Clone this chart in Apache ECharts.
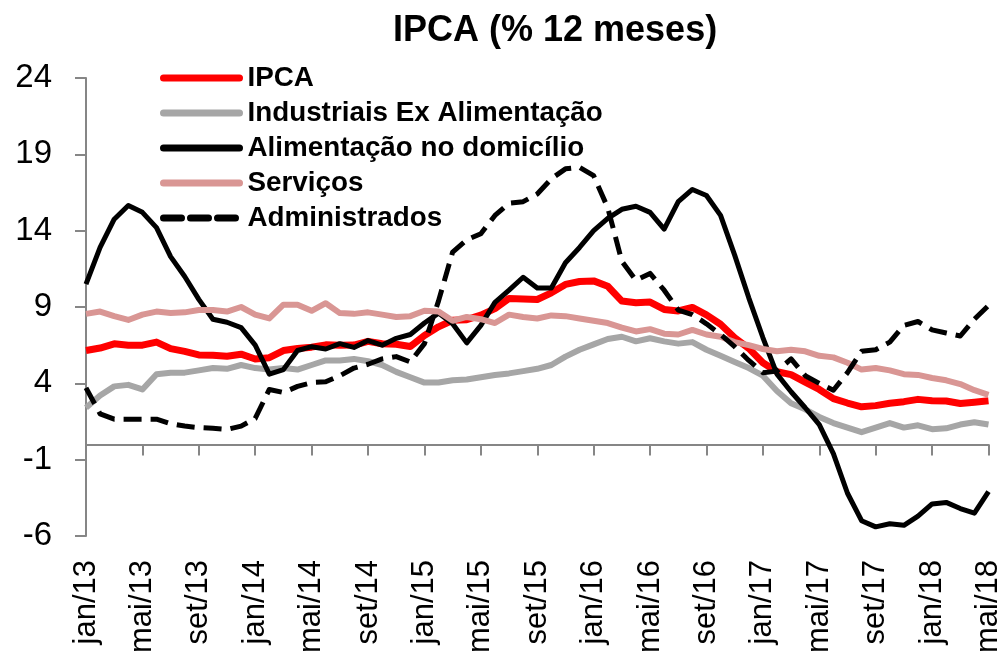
<!DOCTYPE html>
<html>
<head>
<meta charset="utf-8">
<script src="https://cdn.jsdelivr.net/npm/echarts@6/dist/echarts.min.js"></script>
<style>
html, body { margin: 0; padding: 0; background: #fff; }
#chart { width: 1004px; height: 660px; }
</style>
</head>
<body>
<div id="chart"></div>
<script>
// meses jan/13 .. mai/18
var monthNames = ['jan', 'fev', 'mar', 'abr', 'mai', 'jun', 'jul', 'ago', 'set', 'out', 'nov', 'dez']
var years = ['13', '14', '15', '16', '17', '18']
var lastMonth = 'mai/18'

var yTicks = [-6, -1, 4, 9, 14, 19, 24]

var ipca = [
  6.15, 6.31, 6.59, 6.49, 6.50, 6.70, 6.27, 6.09, 5.86, 5.84, 5.77, 5.91,
  5.59, 5.68, 6.15, 6.28, 6.37, 6.52, 6.50, 6.51, 6.75, 6.59, 6.56, 6.41,
  7.14, 7.70, 8.13, 8.17, 8.47, 8.89, 9.56, 9.53, 9.49, 9.93, 10.48, 10.67,
  10.71, 10.36, 9.39, 9.28, 9.32, 8.84, 8.74, 8.97, 8.48, 7.87, 6.99, 6.29,
  5.35, 4.76, 4.57, 4.08, 3.60, 3.00, 2.71, 2.46, 2.54, 2.70, 2.80, 2.95,
  2.86, 2.84, 2.68, 2.76, 2.86
]
var industriais = [
  2.4, 3.2, 3.8, 3.9, 3.6, 4.6, 4.7, 4.7, 4.85, 5.0, 4.95, 5.2, 5.0, 4.9, 5.0, 4.9, 5.2, 5.5, 5.5,
  5.6, 5.45, 5.2, 4.75, 4.4, 4.05, 4.05, 4.2, 4.25, 4.4, 4.55, 4.65, 4.8, 4.95, 5.2, 5.75, 6.2, 6.55, 6.9, 7.05, 6.75,
  6.95, 6.75, 6.6, 6.7, 6.2, 5.8, 5.4, 5.0, 4.5, 3.5, 2.7, 2.3, 1.8, 1.4, 1.1, 0.8, 1.1, 1.4, 1.1, 1.25, 1.0, 1.05, 1.3, 1.45, 1.3
]
var alimentacao = [
  10.5, 12.9, 14.75, 15.65, 15.2, 14.2, 12.3, 11.0, 9.5, 8.2, 8.0, 7.65, 6.5, 4.6, 4.9, 6.15, 6.4, 6.25, 6.6,
  6.35, 6.8, 6.5, 6.95, 7.2, 7.95, 8.6, 7.9, 6.65, 7.8, 9.3, 10.1, 10.95, 10.25, 10.25, 11.9, 12.9, 14.0, 14.8, 15.4, 15.6,
  15.2, 14.1, 15.9, 16.7, 16.3, 15.0, 12.4, 9.6, 7.0, 4.6, 3.45, 2.4, 1.3, -0.6, -3.2, -5.0, -5.4, -5.2, -5.3, -4.7, -3.9, -3.8, -4.2, -4.5, -3.1
]
var servicos = [
  8.55, 8.7, 8.4, 8.15, 8.5, 8.7, 8.6, 8.65, 8.8, 8.8, 8.7, 9.0, 8.5, 8.25, 9.15, 9.15, 8.75, 9.25, 8.6,
  8.55, 8.65, 8.5, 8.35, 8.4, 8.75, 8.7, 8.1, 8.35, 8.2, 7.95, 8.5, 8.35, 8.25, 8.45, 8.4, 8.25, 8.1, 7.95, 7.65, 7.4,
  7.55, 7.25, 7.2, 7.5, 7.2, 7.05, 6.7, 6.5, 6.25, 6.1, 6.2, 6.1, 5.8, 5.7, 5.35, 4.9, 5.0, 4.85, 4.6, 4.55, 4.35, 4.2, 3.95, 3.55, 3.25
]
var administrados = [
  3.7, 2.0, 1.65, 1.65, 1.65, 1.65, 1.35, 1.2, 1.1, 1.05, 0.98, 1.2, 1.7, 3.6, 3.4, 3.8, 4.05, 4.1, 4.5,
  5.0, 5.25, 5.6, 5.75, 5.4, 6.6, 9.4, 12.6, 13.4, 13.8, 15.0, 15.8, 15.9, 16.4, 17.4, 18.05, 18.15, 17.6, 15.5, 12.0, 10.75,
  11.2, 10.1, 8.8, 8.5, 7.9, 7.2, 6.4, 5.5, 4.7, 4.8, 5.6, 4.5, 4.0, 3.55, 4.7, 6.1, 6.2, 6.7, 7.8, 8.05, 7.5, 7.3, 7.1, 8.2, 9.1
]

var months = []
years.forEach(function (y) {
  monthNames.forEach(function (m) {
    if (months.indexOf(lastMonth) < 0) months.push(m + '/' + y)
  })
})

var font = 'Liberation Sans, Arial, sans-serif'
var axisGray = '#868686'

var chart = echarts.init(document.getElementById('chart'), null, { renderer: 'canvas' })

function lineSeries (name, data, color, width, type) {
  return {
    name: name,
    type: 'line',
    data: data,
    symbol: 'none',
    smooth: false,
    animation: false,
    lineStyle: { color: color, width: width, type: type || 'solid', cap: 'butt', join: 'round' },
    itemStyle: { color: color }
  }
}

var option = {
  backgroundColor: '#fff',
  animation: false,
  title: {
    text: 'IPCA (% 12 meses)',
    left: 388,
    top: 8,
    textStyle: { fontFamily: font, fontSize: 36, fontWeight: 'bold', color: '#000' }
  },
  legend: {
    orient: 'vertical',
    left: 155,
    top: 58,
    itemWidth: 76,
    itemHeight: 14,
    itemGap: 5,
    itemStyle: { opacity: 0 },
    lineStyle: { width: 7, cap: 'round' },
    textStyle: { fontFamily: font, fontSize: 27.8, fontWeight: 'bold', color: '#000', lineHeight: 30, padding: [0, 0, 0, 3] },
    data: ['IPCA', 'Industriais Ex Alimentação', 'Alimentação no domicílio', 'Serviços', 'Administrados']
  },
  grid: { left: 86, right: 10, top: 78, bottom: 124, containLabel: false },
  xAxis: [
    {
      type: 'category',
      data: months,
      boundaryGap: false,
      axisLine: { onZero: true, lineStyle: { color: axisGray, width: 2 } },
      axisTick: { show: true, interval: 3, length: 11, inside: false, lineStyle: { color: axisGray, width: 2 } },
      axisLabel: { show: false },
      splitLine: { show: false }
    },
    {
      type: 'category',
      data: months,
      boundaryGap: false,
      position: 'bottom',
      axisLine: { show: false, onZero: false },
      axisTick: { show: false },
      axisLabel: {
        interval: 3,
        rotate: 90,
        margin: 24,
        fontFamily: font,
        fontSize: 31,
        color: '#000'
      },
      splitLine: { show: false }
    }
  ],
  yAxis: {
    type: 'value',
    min: -6,
    max: 24,
    axisLine: { show: true, lineStyle: { color: axisGray, width: 2 } },
    axisTick: { show: true, length: 11, customValues: yTicks, lineStyle: { color: axisGray, width: 2 } },
    axisLabel: { margin: 34, fontFamily: font, fontSize: 33, color: '#000', customValues: yTicks },
    splitLine: { show: false }
  },
  series: [
    lineSeries('IPCA', ipca, '#ff0000', 7),
    lineSeries('Industriais Ex Alimentação', industriais, '#a6a6a6', 6),
    lineSeries('Alimentação no domicílio', alimentacao, '#000000', 5),
    lineSeries('Serviços', servicos, '#d99694', 6),
    lineSeries('Administrados', administrados, '#000000', 5, [18, 9])
  ]
}

chart.setOption(option)
</script>
</body>
</html>
